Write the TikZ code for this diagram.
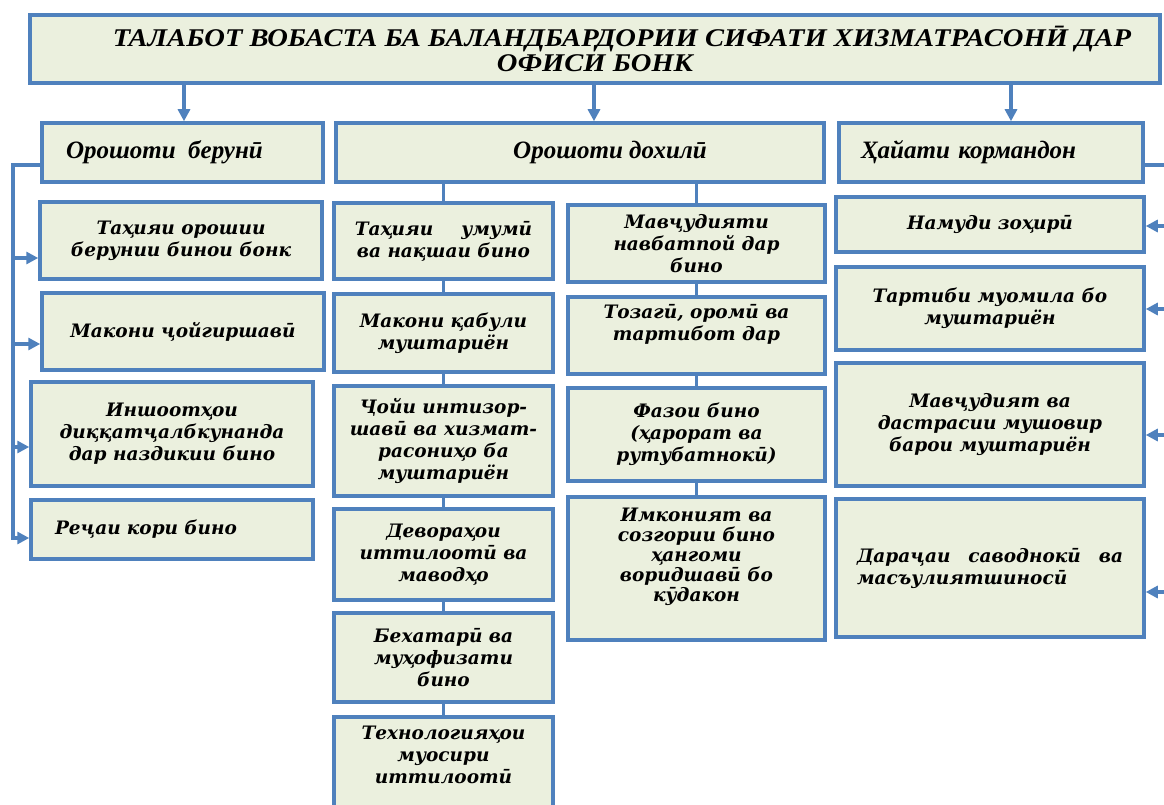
\documentclass[tikz,border=0pt]{standalone}
\usepackage{fontspec}
\usepackage{tikz}
\usetikzlibrary{arrows.meta}
\setmainfont{DejaVu Serif}
\newfontfamily\headfont{Liberation Serif}
\newfontfamily\titlefont[FakeStretch=1.12]{Liberation Serif}
\definecolor{boxblue}{RGB}{79,129,189}
\definecolor{boxfill}{RGB}{235,240,222}
\tikzstyle{box}=[draw=boxblue,fill=boxfill,line width=3.5pt,rectangle,inner sep=4pt,
  font=\fontsize{18.5}{22}\selectfont\bfseries\itshape,align=center]
\tikzstyle{head}=[box,font=\headfont\fontsize{25}{26}\selectfont\bfseries\itshape]
\tikzstyle{link}=[draw=boxblue,line width=3.4pt]
\tikzstyle{arr}=[link,-{Triangle[length=12pt,width=12pt]}]

\begin{document}
\begin{tikzpicture}[x=1pt,y=-1pt]
      \useasboundingbox (0,0) rectangle (1164,805);

      % title
      \node[head,minimum width=1130pt,minimum height=68pt,font=\titlefont\fontsize{25.5}{25}\selectfont\bfseries\itshape] (title) at (595,49)
        {\hspace*{54pt}ТАЛАБОТ ВОБАСТА БА БАЛАНДБАРДОРИИ СИФАТИ ХИЗМАТРАСОНӢ ДАР\\ ОФИСИ БОНК};

      % headers
      \node[head,minimum width=281pt,minimum height=59pt,inner xsep=24pt,text width=233pt,align=left] (beruni) at (182.5,152.5) {Орошоти\enspace берунӣ};
      \node[head,minimum width=488pt,minimum height=59pt] (dokhili) at (580,152.5) {\hspace*{60pt}Орошоти дохилӣ};
      \node[head,minimum width=304pt,minimum height=59pt,inner xsep=22pt,text width=260pt,align=left] (korm) at (991,152.5) {Ҳайати кормандон};

      \draw[arr] (title.south -| 184,0) -- (beruni.north -| 184,0);
      \draw[arr] (title.south -| 594,0) -- (dokhili.north -| 594,0);
      \draw[arr] (title.south -| 1011,0) -- (korm.north -| 1011,0);

      % outer premises
      \node[box,minimum width=282pt,minimum height=77pt] (l1) at (181,240.5) {Таҳияи орошии\\ берунии бинои бонк};
      \node[box,minimum width=282pt,minimum height=77pt] (l2) at (183,331.5) {Макони ҷойгиршавӣ};
      \node[box,minimum width=282pt,minimum height=104pt] (l3) at (172,434) {Иншоотҳои\\ диққатҷалбкунанда\\ дар наздикии бино};
      \node[box,minimum width=282pt,minimum height=59pt,inner xsep=24pt,text width=234pt,align=left] (l4) at (172,529.5) {Реҷаи кори бино};

      \coordinate (ltop) at (13,165);
      \coordinate (lbot) at (13,540);
      \draw[link] (beruni.west |- ltop) -- (ltop) -- (lbot);
      \draw[arr] (ltop |- 0,258) -- (l1.west |- 0,258);
      \draw[arr] (ltop |- 0,344) -- (l2.west |- 0,344);
      \draw[arr] (ltop |- 0,447) -- (l3.west |- 0,447);
      \draw[arr] (ltop |- 0,538) -- (l4.west |- 0,538);

      % inner premises
      \node[box,minimum width=219pt,minimum height=76pt] (m1) at (443.5,241) {Таҳияи\hspace{28pt}умумӣ\\ ва нақшаи бино};
      \node[box,minimum width=219pt,minimum height=78pt] (m2) at (443.5,333) {Макони қабули\\ муштариён};
      \node[box,minimum width=219pt,minimum height=110pt] (m3) at (443.5,441) {Ҷойи интизор-\\шавӣ ва хизмат-\\расониҳо ба\\ муштариён};
      \node[box,minimum width=219pt,minimum height=91pt] (m4) at (443.5,554.5) {Девораҳои\\ иттилоотӣ ва\\ маводҳо};
      \node[box,minimum width=219pt,minimum height=89pt] (m5) at (443.5,657.5) {Бехатарӣ ва\\ муҳофизати\\ бино};
      \node[box,minimum width=219pt,minimum height=103pt] (m6) at (443.5,768.5) {Технологияҳои\\ муосири\\ иттилоотӣ\\[6pt]};

      \node[box,minimum width=257pt,minimum height=77pt] (n1) at (696.5,243.5) {Мавҷудияти\\ навбатпой дар\\ бино};
      \node[box,minimum width=257pt,minimum height=77pt] (n2) at (696.5,335.5) {Тозагӣ, оромӣ ва\\ тартибот дар\\[4pt]};
      \node[box,minimum width=257pt,minimum height=93pt] (n3) at (696.5,434.5) {Фазои бино\\ (ҳарорат ва\\ рутубатнокӣ)};
      \node[box,minimum width=257pt,minimum height=143pt,font=\fontsize{18.5}{20}\selectfont\bfseries\itshape] (n4) at (696.5,568.5) {Имконият ва\\ созгории бино\\ ҳангоми\\ воридшавӣ бо\\ кӯдакон\\[8pt]};

      \draw[link] (dokhili.south -| m1.north) -- (m1.north);
      \draw[link] (m1) -- (m2);
      \draw[link] (m2) -- (m3);
      \draw[link] (m3) -- (m4);
      \draw[link] (m4) -- (m5);
      \draw[link] (m5) -- (m6);
      \draw[link] (dokhili.south -| n1.north) -- (n1.north);
      \draw[link] (n1) -- (n2);
      \draw[link] (n2) -- (n3);
      \draw[link] (n3) -- (n4);

      % staff
      \node[box,minimum width=308pt,minimum height=55pt] (r1) at (990,224.5) {Намуди зоҳирӣ};
      \node[box,minimum width=308pt,minimum height=83pt] (r2) at (990,308.5) {Тартиби муомила бо\\ муштариён};
      \node[box,minimum width=308pt,minimum height=123pt] (r3) at (990,424.5) {Мавҷудият ва\\ дастрасии мушовир\\ барои муштариён};
      \node[box,minimum width=308pt,minimum height=138pt,text width=266pt,align=justify] (r4) at (990,568)
        {Дараҷаи\hfill саводнокӣ\hfill ва\\ масъулиятшиносӣ};

      \coordinate (rtop) at (1175,165);
      \coordinate (rbot) at (1175,592);
      \draw[link] (korm.east |- rtop) -- (rtop) -- (rbot);
      \draw[arr] (rtop |- 0,226) -- (r1.east |- 0,226);
      \draw[arr] (rtop |- 0,309) -- (r2.east |- 0,309);
      \draw[arr] (rtop |- 0,435) -- (r3.east |- 0,435);
      \draw[arr] (rtop |- 0,592) -- (r4.east |- 0,592);
    \end{tikzpicture}
\end{document}
